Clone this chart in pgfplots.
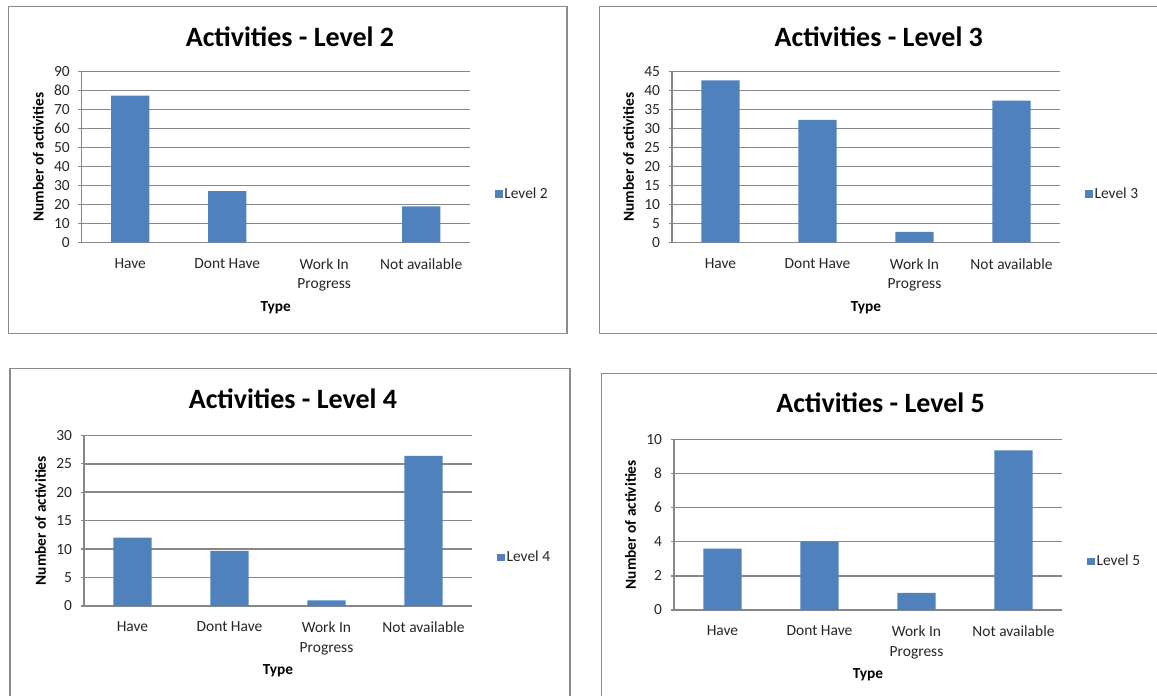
\documentclass[border=0pt]{standalone}
\usepackage{pgfplots}
\pgfplotsset{compat=1.18}
\usepackage{fontspec}
\setmainfont{Carlito}

\definecolor{barblue}{HTML}{4F81BD}
\definecolor{gridgray}{HTML}{878787}
\definecolor{framegray}{HTML}{8C8C8C}
\definecolor{labelgray}{HTML}{262626}

% Activity counts per type, one table per level
\pgfplotstableread{
x val
1 77.4
2 27.0
3 0
4 19.0
}\levelii
\pgfplotstableread{
x val
1 42.7
2 32.3
3 2.8
4 37.4
}\leveliii
\pgfplotstableread{
x val
1 12.0
2 9.7
3 1.0
4 26.4
}\leveliv
\pgfplotstableread{
x val
1 3.6
2 4.0
3 1.0
4 9.35
}\levelv

\pgfplotsset{
  levelpanel/.style={
    scale only axis, width=291pt, height=128pt,
    anchor=north west,
    ybar, bar width=28.7pt,
    xmin=0.5, xmax=4.5, ymin=0,
    xtick={1,2,3,4},
    xticklabels={Have,Dont Have,{Work In\\Progress},Not available},
    major x tick style={draw=none},
    extra x ticks={0.5,1.5,2.5,3.5,4.5},
    extra x tick labels={,,,,},
    extra x tick style={major tick length=3.8pt, grid=none,
      tick style={draw=gridgray, line width=1pt}},
    axis x line*=bottom, axis y line*=left,
    axis line style={draw=gridgray, line width=1.1pt},
    ymajorgrids, grid style={draw=gridgray, line width=1.1pt},
    y tick style={draw=gridgray, line width=1pt},
    tick align=outside, major tick length=2.5pt,
    ticklabel style={font=\fontsize{11.6}{14.8}\selectfont, text=labelgray},
    xticklabel style={align=center, yshift=-6pt},
    yticklabel style={xshift=-3pt},
    /pgf/number format/assume math mode=true,
    xlabel={Type}, ylabel={Number of activities},
    label style={font=\bfseries\fontsize{11.5}{13}\selectfont},
    xlabel style={at={(axis description cs:0.5,-0.38)}, anchor=center},
    ylabel style={at={(axis description cs:-0.112,0.5)}, anchor=center},
    legend style={at={(axis description cs:1.065,0.284)}, anchor=west,
      draw=none, fill=none, inner sep=0pt,
      font=\fontsize{11.6}{13}\selectfont, text=labelgray,
      nodes={inner sep=1pt}},
    legend cell align=left,
  },
  levelbar/.style={fill=barblue, draw=none,
    legend image code/.code={\fill[barblue] (0pt,-2.9pt) rectangle (5.8pt,2.9pt);}},
}

\begin{document}
\begin{tikzpicture}
\useasboundingbox (0,0) rectangle (867.75pt,-522pt);
\clip (0,0) rectangle (867.75pt,-522pt);

% panel frames
\draw[framegray, line width=1.1pt] (6.2pt,-5pt) rectangle (425.2pt,-250pt);
\draw[framegray, line width=1.1pt] (449.5pt,-5pt) rectangle (880pt,-250pt);
\draw[framegray, line width=1.1pt] (7.5pt,-276.2pt) rectangle (427.5pt,-535pt);
\draw[framegray, line width=1.1pt] (451.3pt,-280pt) rectangle (880pt,-535pt);

% panel titles
\node[font=\bfseries\fontsize{21}{25}\selectfont] at (217.5pt,-27.75pt) {Activities - Level 2};
\node[font=\bfseries\fontsize{21}{25}\selectfont] at (659.1pt,-27.5pt) {Activities - Level 3};
\node[font=\bfseries\fontsize{21}{25}\selectfont] at (219.75pt,-299.25pt) {Activities - Level 4};
\node[font=\bfseries\fontsize{21}{25}\selectfont] at (660.5pt,-302.25pt) {Activities - Level 5};

\begin{axis}[levelpanel, at={(61.3pt,-53.8pt)}, ymax=90, ytick distance=10]
  \addplot[levelbar] table[x=x, y=val] {\levelii};
  \addlegendentry{Level 2}
\end{axis}

\begin{axis}[levelpanel, at={(504pt,-53.8pt)}, ymax=45, ytick distance=5]
  \addplot[levelbar] table[x=x, y=val] {\leveliii};
  \addlegendentry{Level 3}
\end{axis}

\begin{axis}[levelpanel, at={(63pt,-326.5pt)}, ymax=30, ytick distance=5]
  \addplot[levelbar] table[x=x, y=val] {\leveliv};
  \addlegendentry{Level 4}
\end{axis}

\begin{axis}[levelpanel, at={(505.5pt,-329.5pt)}, ymax=10, ytick distance=2]
  \addplot[levelbar] table[x=x, y=val] {\levelv};
  \addlegendentry{Level 5}
\end{axis}
\end{tikzpicture}
\end{document}
